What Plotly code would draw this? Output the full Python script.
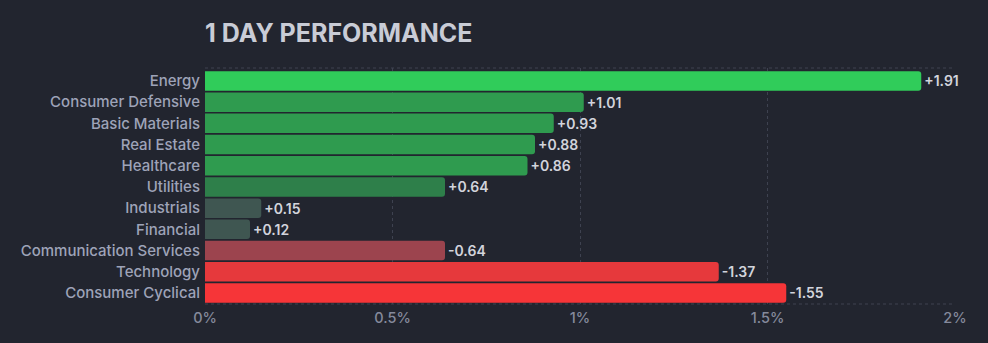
import plotly.graph_objects as go

sectors = ["Energy", "Consumer Defensive", "Basic Materials", "Real Estate", "Healthcare",
           "Utilities", "Industrials", "Financial", "Communication Services", "Technology",
           "Consumer Cyclical"]
changes = [1.91, 1.01, 0.93, 0.88, 0.86, 0.64, 0.15, 0.12, -0.64, -1.37, -1.55]
bar_colors = ["#30CC5A", "#2F9B4F", "#2F9B4F", "#2F9B4F", "#2F9B4F", "#2E7F4A",
              "#3F5651", "#3F5651", "#9C444E", "#E6393C", "#F63538"]
tick_vals = [0, 0.5, 1, 1.5, 2]
tick_text = ["0%", "0.5%", "1%", "1.5%", "2%"]

labels = [f"{v:+.2f}" for v in changes]
magnitudes = [abs(v) for v in changes]

BG = "#22252F"
GRID = "#3E4250"
FONT = "Inter, Roboto, sans-serif"

fig = go.Figure(go.Bar(
    x=magnitudes, y=sectors, orientation="h",
    marker=dict(color=bar_colors, line=dict(width=0)),
    text=labels, textposition="outside", cliponaxis=False,
    textfont=dict(color="#D2D4DC", size=14, family=FONT, weight=600),
    hoverinfo="skip",
))

fig.update_layout(
    width=988, height=343,
    paper_bgcolor=BG, plot_bgcolor=BG,
    margin=dict(l=205, r=33, t=68, b=39),
    bargap=0.08,
    barcornerradius=3,
    showlegend=False,
    title=dict(text="<b>1 DAY PERFORMANCE</b>", xref="container", x=205/988, xanchor="left",
               yref="container", y=1-33/343, yanchor="middle",
               font=dict(size=25, color="#C9CCD6", family=FONT)),
    font=dict(family=FONT),
    xaxis=dict(range=[0, 2], tickvals=tick_vals, ticktext=tick_text,
               showgrid=True, gridcolor=GRID, griddash="3px,3px", gridwidth=1,
               zeroline=False, showline=False, ticks="",
               tickfont=dict(size=14.5, color="#858A9C", weight=500), ticklabelstandoff=3),
    yaxis=dict(range=[10.52, -0.61], showgrid=False, zeroline=False, ticks="",
               tickfont=dict(size=15, color="#9EA3B8", weight=500), ticklabelstandoff=4),
    shapes=[
        dict(type="line", xref="paper", yref="paper", x0=0, x1=1, y0=1, y1=1,
             line=dict(color=GRID, width=1, dash="3px,3px"), layer="below"),
        dict(type="line", xref="paper", yref="paper", x0=0, x1=1, y0=0, y1=0,
             line=dict(color=GRID, width=1, dash="3px,3px"), layer="below"),
    ],
)

fig.write_html("out.html")
